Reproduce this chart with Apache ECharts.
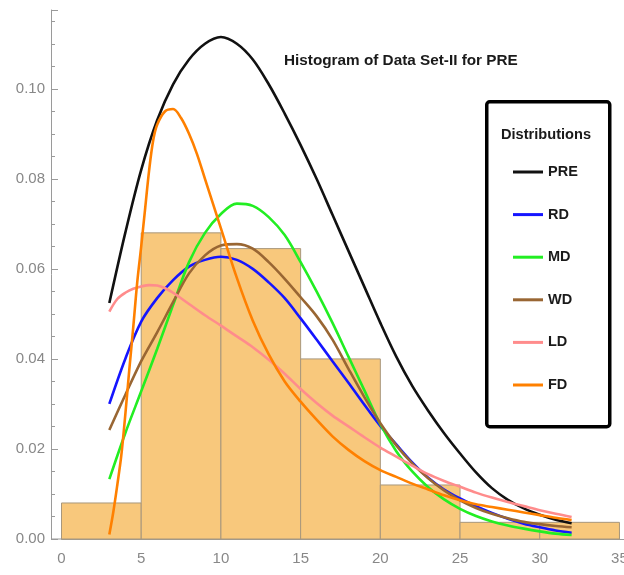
<!DOCTYPE html>
<html>
<head>
<meta charset="utf-8">
<script src="https://cdn.jsdelivr.net/npm/echarts@6/dist/echarts.min.js"></script>
<style>
html,body{margin:0;padding:0;background:#fff;}
#chart{width:624px;height:575px;}
</style>
</head>
<body>
<div id="chart"></div>
<script>
// Histogram bins (density)
var binStart = [0, 5, 10, 15, 20, 25, 30];
var binEnd   = [5, 10, 15, 20, 25, 30, 35];
var density  = [0.008, 0.068, 0.0645, 0.040, 0.012, 0.0037, 0.0037];

// Fitted densities sampled at integer x
var xs  = [3,4,5,6,7,8,9,10,11,12,13,14,15,16,17,18,19,20,21,22,23,24,25,26,27,28,29,30,31,32];
var pre = [0.0524,0.068,0.082,0.093,0.101,0.1065,0.110,0.1115,0.110,0.1065,0.101,0.0945,0.0875,0.080,0.072,0.064,0.056,0.048,0.0405,0.034,0.0285,0.0235,0.019,0.0148,0.0113,0.0087,0.0068,0.0054,0.0043,0.0035];
var rd  = [0.030,0.040,0.0483,0.0535,0.0575,0.0605,0.062,0.0627,0.062,0.060,0.057,0.0535,0.049,0.0443,0.0395,0.0347,0.0298,0.0251,0.021,0.017,0.0136,0.011,0.009,0.0073,0.0058,0.0045,0.0034,0.0026,0.0019,0.0014];
var md  = [0.0133,0.0235,0.0328,0.0422,0.052,0.0615,0.068,0.0722,0.0745,0.074,0.0715,0.0675,0.0615,0.055,0.048,0.0405,0.033,0.0255,0.0195,0.015,0.0115,0.0088,0.0067,0.0051,0.0039,0.003,0.0023,0.0017,0.0012,0.0009];
var wd  = [0.0242,0.032,0.0395,0.0459,0.0526,0.059,0.063,0.0652,0.0655,0.0645,0.0615,0.0578,0.0537,0.0495,0.0443,0.0378,0.0315,0.0257,0.0208,0.0168,0.0135,0.0108,0.0086,0.0069,0.0056,0.0046,0.0038,0.0033,0.0029,0.0026];
// LD sampled more finely near its early rounded peak
var xsLD = [3,3.5,4,4.5,5,5.5,6,6.5,7,8,9,10,11,12,13,14,15,16,17,18,19,20,21,22,23,24,25,26,27,28,29,30,31,32];
var ld   = [0.0505,0.0533,0.0547,0.0556,0.0561,0.0564,0.0563,0.0557,0.0547,0.0522,0.0497,0.0474,0.045,0.0426,0.0398,0.0367,0.0333,0.0302,0.0274,0.025,0.0226,0.0203,0.0183,0.0163,0.0144,0.0129,0.0116,0.0103,0.0092,0.0082,0.0073,0.0064,0.0056,0.0049];
// FD sampled more finely near its sharp rise
var xsFD = [3,3.25,3.5,3.75,4,4.25,4.5,4.75,5,5.25,5.5,5.75,6,6.5,7,7.5,8,8.5,9,10,11,12,13,14,15,16,17,18,19,20,21,22,23,24,25,26,27,28,29,30,31,32];
var fd   = [0.001,0.006,0.012,0.0185,0.0275,0.0375,0.047,0.057,0.065,0.0735,0.082,0.0885,0.092,0.095,0.0955,0.0935,0.090,0.0855,0.080,0.069,0.058,0.0485,0.041,0.035,0.0305,0.0265,0.0228,0.0198,0.0173,0.0153,0.0138,0.0123,0.011,0.0097,0.0086,0.0077,0.0071,0.0065,0.0059,0.0053,0.0047,0.0042];

var names  = ['PRE','RD','MD','WD','LD','FD'];
var colors = ['#111111','#1515ff','#22ee22','#996633','#ff8c8c','#ff8000'];

var FONT = "'Liberation Sans',Arial,sans-serif";

function pairs(x, y){ return x.map(function(v,i){ return [v, y[i]]; }); }

var curveData = [pairs(xs,pre), pairs(xs,rd), pairs(xs,md), pairs(xs,wd), pairs(xsLD,ld), pairs(xsFD,fd)];
var histData = binStart.map(function(s,i){ return [s, binEnd[i], density[i]]; });

var series = [{
  type: 'custom',
  name: 'hist',
  data: histData,
  encode: { x: [0,1], y: 2 },
  z: 1,
  silent: true,
  renderItem: function(params, api){
    var p0 = api.coord([api.value(0), 0]);
    var p1 = api.coord([api.value(1), api.value(2)]);
    return {
      type: 'rect',
      shape: { x: p0[0], y: p1[1], width: p1[0]-p0[0], height: p0[1]-p1[1] },
      style: { fill: '#f8c87c', stroke: '#a8977c', lineWidth: 1 }
    };
  }
}];
names.forEach(function(n,i){
  series.push({
    type: 'line',
    name: n,
    data: curveData[i],
    smooth: 0.33,
    showSymbol: false,
    symbol: 'none',
    z: 3 + i,
    lineStyle: { color: colors[i], width: 2.6 },
    itemStyle: { color: colors[i] }
  });
});

var chart = echarts.init(document.getElementById('chart'), null, {renderer:'canvas'});
var axisCol = '#9a9a9a';
var boxAndTitle = [
  { type: 'rect', left: 485, top: 100, z: 10,
    shape: { width: 123, height: 325, r: 3 },
    style: { fill: 'rgba(0,0,0,0)', stroke: '#000', lineWidth: 3.5 } },
  { type: 'text', x: 546, y: 135, z: 10,
    style: { text: 'Distributions', fontFamily: FONT, fontWeight: 'bold', fontSize: 14.6, fill: '#1a1a1a', textAlign: 'center', textVerticalAlign: 'middle' } }
];
chart.setOption({
  animation: false,
  backgroundColor: '#ffffff',
  title: {
    text: 'Histogram of Data Set-II for PRE',
    left: 279, top: 48,
    textStyle: { fontFamily: FONT, fontWeight: 'bold', fontSize: 15.3, color: '#1a1a1a' }
  },
  grid: { left: 61.5, right: -11.4, top: 10, bottom: 36, containLabel: false, outerBoundsMode: 'none' },
  xAxis: {
    type: 'value', min: 0, max: 36, interval: 5,
    axisLine: { show: true, onZero: false, lineStyle: { color: axisCol, width: 1 } },
    axisTick: { show: true, inside: true, length: 7, lineStyle: { color: axisCol } },
    minorTick: { show: true, splitNumber: 5, length: 4, lineStyle: { color: axisCol } },
    splitLine: { show: false },
    axisLabel: { showMaxLabel: false, color: '#888', fontSize: 15, fontFamily: FONT, margin: 12 }
  },
  yAxis: {
    type: 'value', min: 0, max: 0.1175, interval: 0.02, offset: 10.5,
    axisLine: { show: true, onZero: false, lineStyle: { color: axisCol, width: 1 } },
    axisTick: { show: true, inside: true, length: 7, lineStyle: { color: axisCol } },
    minorTick: { show: true, splitNumber: 4, length: 4, lineStyle: { color: axisCol } },
    splitLine: { show: false },
    axisLabel: { showMaxLabel: false, color: '#888', fontSize: 15, fontFamily: FONT, margin: 6,
      formatter: function(v){ return v.toFixed(2); } }
  },
  legend: {
    data: names,
    orient: 'vertical',
    left: 513, top: 164,
    icon: 'rect',
    itemWidth: 30, itemHeight: 3, itemGap: 26.6,
    padding: 0,
    textStyle: { fontFamily: FONT, fontWeight: 'bold', fontSize: 14.5, color: '#1a1a1a', lineHeight: 16 }
  },
  graphic: boxAndTitle,
  series: series
});

// extend the x axis line left to the offset y axis
var px0 = chart.convertToPixel({xAxisIndex: 0}, 0);
var py0 = chart.convertToPixel({yAxisIndex: 0}, 0);
chart.setOption({
  graphic: boxAndTitle.concat([
    { type: 'line', z: 2, shape: { x1: px0 - 10.5, y1: py0, x2: px0, y2: py0 },
      style: { stroke: axisCol, lineWidth: 1 } }
  ])
});
</script>
</body>
</html>
